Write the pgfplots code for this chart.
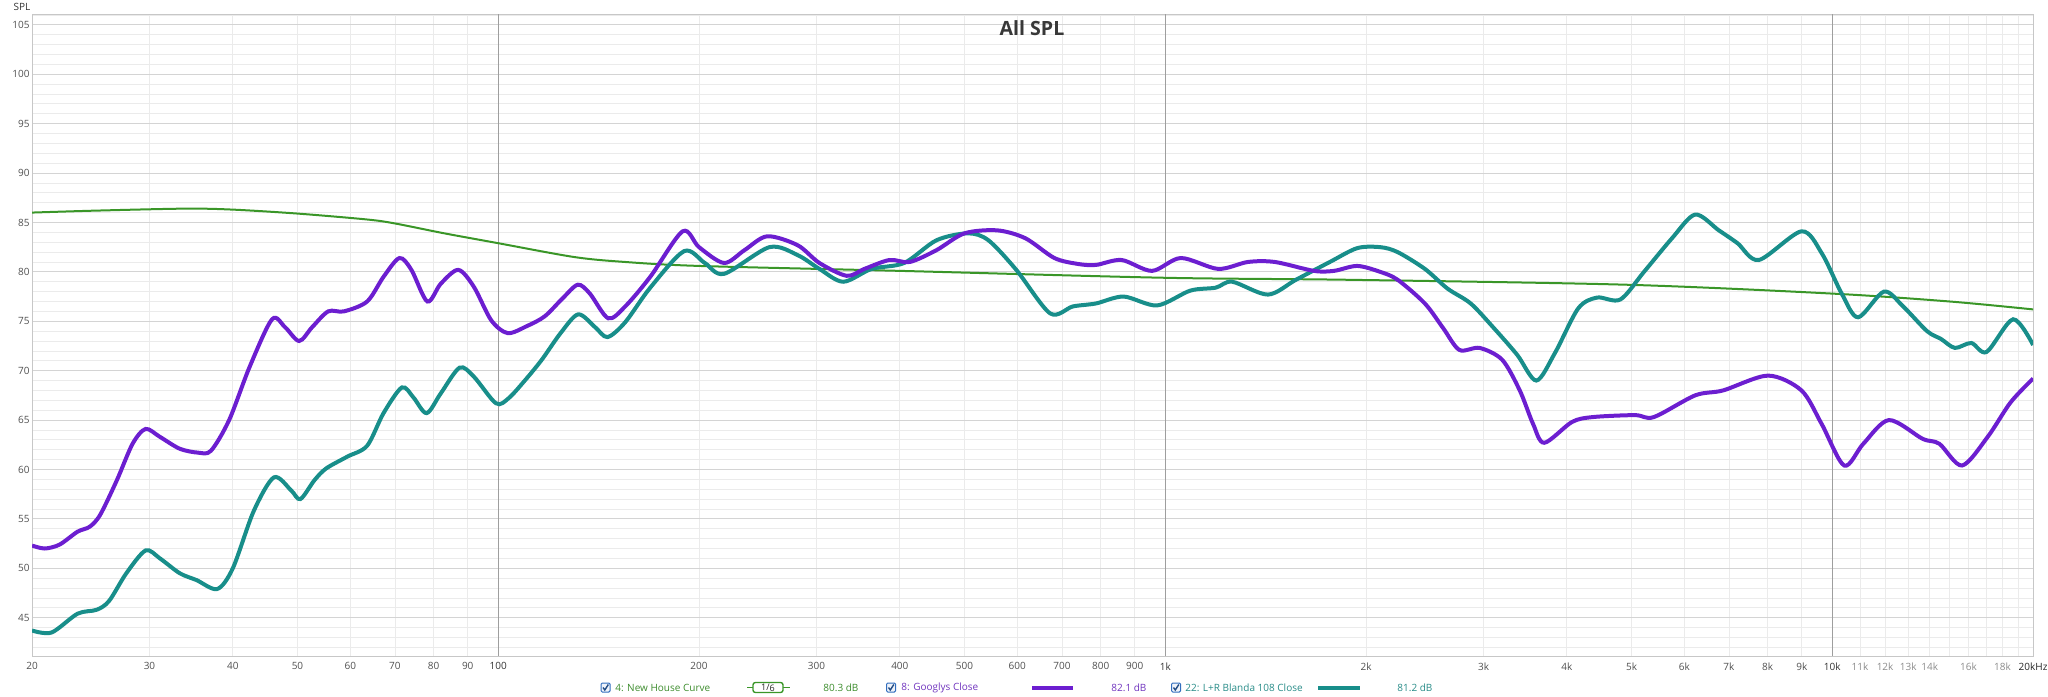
\documentclass[border=0pt]{standalone}
\usepackage{fontspec}
\setmainfont{Open Sans}
\usepackage{pgfplots}
\pgfplotsset{compat=1.18}

\definecolor{pur}{RGB}{108,30,208}
\definecolor{tea}{RGB}{24,142,138}
\definecolor{grn}{RGB}{58,150,40}
\definecolor{purtxt}{RGB}{112,52,190}
\definecolor{teatxt}{RGB}{40,140,136}
\definecolor{grntxt}{RGB}{60,140,44}
\definecolor{lbl}{RGB}{80,80,80}
\definecolor{cbx}{RGB}{50,110,190}

\newcommand{\chk}[1]{% checkbox at pixel x=#1
  \draw[cbx, line width=0.5pt, fill=cbx!8, rounded corners=0.6pt] (#1-4.5,683) rectangle (#1+4.5,692);
  \draw[cbx!70!black, line width=0.7pt] (#1-2.5,687.5) -- (#1-0.7,690) -- (#1+2.8,684.5);
}

\begin{document}
\begin{tikzpicture}
\path[use as bounding box] (0,0) rectangle (1024pt,348pt);
\begin{axis}[
  at={(16pt,20pt)}, anchor=south west,
  scale only axis, width=1000.5pt, height=321pt,
  xmode=log, xmin=20, xmax=20000, ymin=41.12, ymax=106.1,
  axis line style={draw=black!22},
  tick style={draw=none},
  font=\fontsize{5}{6}\selectfont,
  /pgf/number format/assume math mode=true,
  ytick={45,50,...,105},
  minor ytick={42,43,...,106},
  ymajorgrids, yminorgrids,
  major grid style={draw=black!17, line width=0.4pt},
  minor grid style={draw=black!8, line width=0.4pt},
  yticklabel style={text=lbl, anchor=east, inner sep=0pt, xshift=-1pt},
  xtick={20,30,40,50,60,70,80,90,200,300,400,500,600,700,800,900,2000,3000,4000,5000,6000,7000,8000,9000,11000,12000,13000,14000,16000,18000,20000},
  xticklabels={20,30,40,50,60,70,80,90,200,300,400,500,600,700,800,900,2k,3k,4k,5k,6k,7k,8k,9k,\textcolor{black!45}{11k},\textcolor{black!45}{12k},\textcolor{black!45}{13k},\textcolor{black!45}{14k},\textcolor{black!45}{16k},\textcolor{black!45}{18k},\textcolor{black!85}{20kHz}},
  minor xtick={30,40,50,60,70,80,90,200,300,400,500,600,700,800,900,2000,3000,4000,5000,6000,7000,8000,9000,11000,12000,13000,14000,15000,16000,17000,18000,19000},
  xminorgrids,
  xticklabel style={text=lbl, anchor=north, inner sep=0pt, yshift=-3pt},
  extra x ticks={100,1000,10000},
  extra x tick labels={100,1k,10k},
  extra x tick style={xmajorgrids=true, major grid style={draw=black!38, line width=0.5pt}, xticklabel style={text=black!80}},
  clip=true,
]
% house curve
\addplot[grn, line width=1pt, smooth] coordinates {
(20,86.0) (25,86.2) (34,86.4) (40,86.3) (50,85.9) (63.6,85.3) (70,84.9) (83,83.9)
(100,82.9) (130,81.5) (155,81.0) (200,80.6) (400,80.1) (1000,79.4) (1870,79.2)
(4900,78.7) (10000,77.8) (15000,77.0) (20000,76.2)};
% L+R Blanda 108 Close
\addplot[tea, line width=2pt, smooth] coordinates {
(20,43.7) (21.4,43.5) (23.4,45.4) (25,45.8) (26.1,46.7) (27.7,49.5) (29.6,51.8)
(31.1,51.0) (33.3,49.5) (35.3,48.8) (37.9,47.9) (40,50.0) (43,55.8) (46.1,59.2)
(48.9,57.9) (50.5,57.0) (53,58.9) (55.2,60.1) (59.4,61.3) (63.6,62.4) (67.3,65.7)
(71.7,68.3) (74.6,67.3) (78.1,65.7) (82,67.7) (87.5,70.3) (91.9,69.4) (99.2,66.7)
(103.6,67.2) (109.6,69.0) (116.2,71.1) (124,73.8) (131.8,75.7) (139.7,74.4)
(145.8,73.4) (155,74.9) (169,78.4) (190,82.1) (204,80.9) (218,79.8) (255,82.5)
(281,81.7) (303,80.3) (329,79.0) (363,80.3) (406,80.9) (454,83.2) (506,83.9)
(543,83.2) (598,80.2) (672,75.8) (727,76.5) (787,76.8) (866,77.5) (972,76.6)
(1090,78.1) (1190,78.4) (1260,79.0) (1425,77.7) (1570,79.2) (1765,81.0)
(1940,82.4) (2100,82.5) (2230,82.0) (2450,80.3) (2650,78.3) (2870,76.8)
(3110,74.3) (3370,71.6) (3600,69.0) (3840,71.8) (4160,76.3) (4440,77.4)
(4810,77.2) (5220,80.0) (5750,83.4) (6230,85.8) (6760,84.2) (7210,82.9)
(7760,81.2) (8990,84.1) (9640,81.9) (10330,77.8) (10930,75.4) (11950,78.0)
(12770,76.5) (13870,74.0) (14560,73.2) (15270,72.3) (16160,72.8) (17040,71.9)
(18670,75.2) (20000,72.6)};
% Googlys Close
\addplot[pur, line width=2pt, smooth] coordinates {
(20,52.3) (20.9,52.0) (22,52.4) (23.4,53.7) (24.4,54.2) (25.3,55.4) (26.8,58.9)
(28.3,62.6) (29.6,64.1) (31.1,63.3) (33.3,62.1) (35.5,61.7) (37.1,61.9) (39.5,65.0)
(42.4,70.4) (45.8,75.2) (47.9,74.4) (50.3,73.0) (52.6,74.4) (55.6,76.0) (58.7,76.0)
(63.6,77.0) (67.3,79.5) (71.1,81.4) (74.1,80.2) (78.3,77.0) (82,78.8) (87.1,80.2)
(91.9,78.5) (97.6,75.1) (103.3,73.8) (110.3,74.5) (117.4,75.5) (124.8,77.3)
(131.6,78.7) (137.2,77.8) (146.2,75.3) (155,76.5) (169,79.5) (189,84.1) (200,82.5)
(218,80.9) (234,82.2) (253,83.6) (281,82.7) (303,80.9) (333,79.6) (354,80.3)
(386,81.2) (414,81.0) (454,82.2) (500,83.9) (560,84.2) (617,83.4) (682,81.4)
(740,80.8) (787,80.7) (860,81.2) (955,80.1) (1055,81.4) (1200,80.3) (1330,81.0)
(1460,81.0) (1670,80.1) (1790,80.1) (1940,80.6) (2100,80.0) (2230,79.2)
(2450,76.8) (2610,74.3) (2760,72.1) (2960,72.3) (3200,71.1) (3400,68.0)
(3560,64.6) (3700,62.7) (4070,64.8) (4370,65.3) (5060,65.5) (5400,65.3)
(6230,67.5) (6860,68.0) (8010,69.5) (8990,68.0) (9640,64.6) (10420,60.4)
(11130,62.6) (12160,65.0) (13660,63.1) (14470,62.6) (15650,60.4) (17100,63.3)
(18510,66.8) (20000,69.2)};
\end{axis}

\begin{scope}[x=0.5pt, y=-0.5pt, shift={(0pt,348pt)}]
\node[font=\fontsize{9.8}{11}\bfseries\selectfont, text=black!78] at (1032,28) {All SPL};
\node[font=\fontsize{5}{6}\selectfont, text=black!80] at (22,7) {SPL};
\begin{scope}[font=\fontsize{5}{6}\selectfont]
\chk{605.5}
\node[anchor=west, inner sep=0pt, text=grntxt] at (615,687.5) {4: New House Curve};
\draw[grn, line width=0.8pt] (747,687.5) -- (790,687.5);
\node[draw=grn, line width=0.7pt, fill=white, rounded corners=1.2pt, minimum width=15pt, minimum height=5pt, inner sep=0.4pt, font=\fontsize{4.5}{5}\selectfont, text=black!85] at (768,687.5) {1/\raisebox{-0.6pt}{6}};
\node[anchor=west, inner sep=0pt, text=grntxt] at (823,687.5) {80.3 dB};
\chk{891}
\node[anchor=west, inner sep=0pt, text=purtxt] at (901,687.5) {8: Googlys Close};
\draw[pur, line width=2pt] (1032,687.5) -- (1073,687.5);
\node[anchor=west, inner sep=0pt, text=purtxt] at (1111,687.5) {82.1 dB};
\chk{1176}
\node[anchor=west, inner sep=0pt, text=teatxt] at (1185,687.5) {22: L+R Blanda 108 Close};
\draw[tea, line width=2pt] (1318,687.5) -- (1360,687.5);
\node[anchor=west, inner sep=0pt, text=teatxt] at (1397,687.5) {81.2 dB};
\end{scope}
\end{scope}
\end{tikzpicture}
\end{document}
